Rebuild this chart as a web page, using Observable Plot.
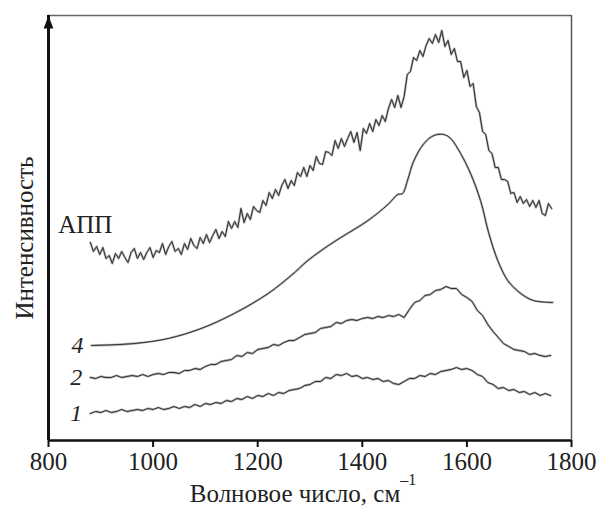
<!DOCTYPE html>
<html><head><meta charset="utf-8">
<script src="https://cdn.jsdelivr.net/npm/d3@7"></script>
<script src="https://cdn.jsdelivr.net/npm/@observablehq/plot@0.6"></script>
<style>
body{margin:0;background:#fff}
#chart{width:608px;height:508px}
#chart svg, #chart svg text { font-family: "Liberation Serif", "DejaVu Serif", serif !important; }
</style>
</head><body><div id="chart"></div>
<script>
// ---- data (intensity in arbitrary units) ----
const xDomain = [800, 1800];
const yDomain = [0, 425];
const xTicks = [800, 1000, 1200, 1400, 1600, 1800];
const seriesNames = ["АПП", "4", "2", "1"];

// АПП spectrum, measured every 6 cm-1 from 880 to 1762
const appGrid = d3.range(880, 1763, 6);
const appI = [
  198,189,194,186,193,182,185,177,187,182,
  189,183,178,188,192,182,188,181,188,193,
  183,190,188,197,186,194,199,189,192,186,
  197,191,202,195,192,203,197,206,198,205,
  211,202,209,204,219,212,219,213,232,218,
  227,221,234,230,228,240,235,248,242,251,
  245,255,261,252,260,255,268,264,273,264,
  275,270,284,277,276,289,288,285,300,292,
  302,294,302,309,298,308,290,312,307,317,
  309,321,315,325,319,332,341,333,345,333,
  344,366,369,383,380,390,384,395,402,397,
  406,398,410,394,400,386,392,379,379,363,
  370,354,357,334,328,309,306,290,287,273,
  273,261,261,259,247,248,238,244,237,241,
  234,240,233,240,227,225,237,232
];

// spectra 2 and 1, every 10 cm-1 from 880 to 1760
const grid10 = d3.range(880, 1761, 10);
const c2I = [
  63,62,64,63,63,65,63,64,65,64,
  66,64,66,67,66,68,68,67,70,70,
  72,71,74,76,76,79,80,81,85,84,
  88,87,91,92,93,96,95,98,100,100,
  103,106,107,108,112,113,114,118,117,120,
  121,120,122,123,122,124,123,125,124,126,
  123,131,138,140,145,146,150,151,154,152,
  152,146,143,139,130,125,116,109,103,97,
  94,91,90,89,86,87,85,84,85
];
const c1I = [
  27,29,28,30,28,29,31,29,30,31,
  30,32,31,33,31,32,34,32,34,33,
  36,34,37,36,38,37,40,39,42,41,
  44,42,45,44,47,45,48,47,50,51,
  52,55,56,59,59,63,62,66,65,67,
  64,65,62,63,61,62,59,60,57,56,
  59,62,62,65,64,67,66,69,70,71,
  73,71,72,70,66,64,58,56,52,53,
  50,51,48,49,46,48,45,47,45
];

// spectrum 4 (smooth)
const c4Wn = [882,964,1029,1092,1155,1220,1264,1296,1327,1359,1411,1449,1468,1477,1487,1498,1518,1537,1556,1569,1588,1607,1626,1642,1659,1678,1703,1727,1764];
const c4I  = [95,97,102,112,127,147,165,180,192,203,220,236,246,247,261,279,297,305,306,302,287,267,240,207,180,160,147,140,138];

// ---- build ----
const pts = (xs, ys, s) => xs.map((x, i) => ({x, y: ys[i], s}));
const app = pts(appGrid, appI, seriesNames[0]);
const c4 = pts(c4Wn, c4I, seriesNames[1]);
const c2 = pts(grid10, c2I, seriesNames[2]);
const c1 = pts(grid10, c1I, seriesNames[3]);
const jagged = [...app, ...c2, ...c1];

const serif = "Liberation Serif, DejaVu Serif, serif";
const arrowHead = {draw(ctx) { ctx.moveTo(0, 0); ctx.lineTo(4.8, 13); ctx.lineTo(-4.8, 13); ctx.closePath(); }};

const svg = Plot.plot({
  width: 608, height: 508,
  marginLeft: 48, marginRight: 37, marginTop: 15, marginBottom: 68,
  style: {fontFamily: serif, background: "#fff", overflow: "visible"},
  x: {domain: xDomain},
  y: {domain: yDomain, axis: null},
  marks: [
    Plot.ruleY([yDomain[1]], {stroke: "#666", strokeWidth: 1.5}),
    Plot.ruleX([xDomain[1]], {stroke: "#555", strokeWidth: 1.5}),
    // halo + core for each spectrum
    Plot.line(jagged, {x: "x", y: "y", z: "s", stroke: "#b0b0b0", strokeWidth: 2.3}),
    Plot.line(c4, {x: "x", y: "y", curve: "catmull-rom", stroke: "#b0b0b0", strokeWidth: 2.3}),
    Plot.line(jagged, {x: "x", y: "y", z: "s", stroke: "#2f2f2f", strokeWidth: 1}),
    Plot.line(c4, {x: "x", y: "y", curve: "catmull-rom", stroke: "#2f2f2f", strokeWidth: 1}),
    // axes
    Plot.ruleY([yDomain[0]], {stroke: "#111", strokeWidth: 2.5}),
    Plot.ruleX([xDomain[0]], {stroke: "#111", strokeWidth: 3}),
    Plot.dot([0], {x: () => xDomain[0], y: () => yDomain[1], symbol: arrowHead, fill: "#111", stroke: "none"}),
    Plot.axisX({ticks: xTicks, tickFormat: d => String(d), tickSize: 7, tickPadding: 5, fontSize: 25, strokeWidth: 2, stroke: "#111", fill: "#222", label: null}),
    // series labels
    Plot.text([app[0]], {x: "x", y: "y", text: "s", dx: -5, dy: -18, fontSize: 25, fill: "#222"}),
    Plot.text([c4[0], c2[0], c1[0]], {x: "x", y: "y", text: "s", dx: -14, dy: 0, fontSize: 24, fontStyle: "italic", fill: "#222"})
  ]
});

const s = d3.select(svg);
// x axis title with superscript
const xt = s.append("text")
  .attr("x", 303).attr("y", 502)
  .attr("text-anchor", "middle")
  .attr("font-family", serif).attr("font-size", 25).attr("fill", "#222");
xt.append("tspan").text("Волновое число, см");
xt.append("tspan").attr("dy", -17).attr("font-size", 16).text("–1");
// y axis title
s.append("text")
  .attr("transform", "translate(33,238) rotate(-90)")
  .attr("text-anchor", "middle")
  .attr("font-family", serif).attr("font-size", 25).attr("fill", "#222")
  .text("Интенсивность");

document.getElementById("chart").appendChild(svg);
</script>
</body></html>
